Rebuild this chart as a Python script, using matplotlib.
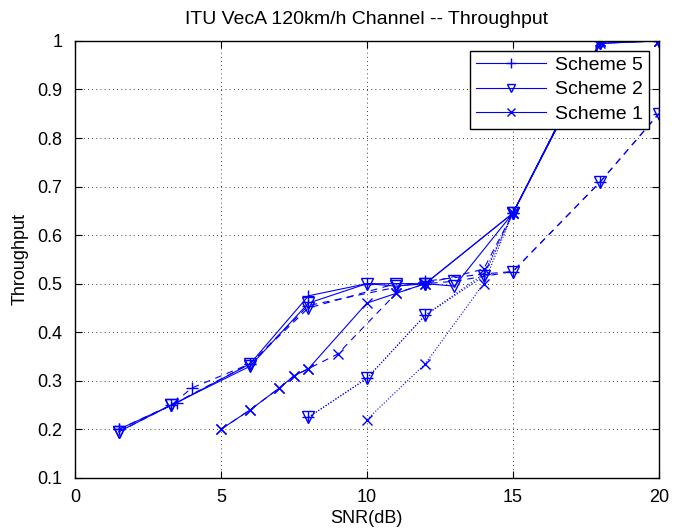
import matplotlib
matplotlib.use('Agg')
import matplotlib.pyplot as plt

plt.rcParams['font.family'] = ['Liberation Sans', 'DejaVu Sans']

# Scheme 5 (+)
x_s5_solid = [1.5, 3.5, 6, 8, 10, 12, 15, 18, 20]
y_s5_solid = [0.20, 0.255, 0.335, 0.475, 0.50, 0.50, 0.645, 1.0, 1.0]
x_s5_dash = [1.5, 3.3, 4, 6, 8, 12, 14, 15, 18, 20]
y_s5_dash = [0.20, 0.25, 0.285, 0.335, 0.455, 0.505, 0.52, 0.525, 0.71, 0.85]
x_s5_dot = [8, 10, 12, 14, 15, 18, 20]
y_s5_dot = [0.225, 0.305, 0.435, 0.52, 0.645, 1.0, 1.0]

# Scheme 2 (v)
x_s2_solid = [1.5, 3.3, 6, 8, 10, 11, 12, 13, 15, 18, 20]
y_s2_solid = [0.195, 0.25, 0.33, 0.46, 0.50, 0.495, 0.50, 0.495, 0.645, 0.995, 1.0]
x_s2_dash = [1.5, 3.3, 6, 8, 11, 12, 13, 15, 18, 20]
y_s2_dash = [0.195, 0.25, 0.335, 0.45, 0.50, 0.50, 0.505, 0.525, 0.71, 0.85]
x_s2_dot = [8, 10, 12, 14, 15, 18, 20]
y_s2_dot = [0.225, 0.305, 0.435, 0.515, 0.645, 0.995, 1.0]

# Scheme 1 (x)
x_s1_solid = [5, 6, 7, 7.5, 8, 10, 11, 12, 15, 18, 20]
y_s1_solid = [0.20, 0.24, 0.285, 0.31, 0.325, 0.46, 0.48, 0.50, 0.645, 0.995, 1.0]
x_s1_dash = [5, 6, 7, 7.5, 8, 9, 11, 12, 14, 15, 18, 20]
y_s1_dash = [0.20, 0.24, 0.285, 0.31, 0.325, 0.355, 0.48, 0.50, 0.53, 0.645, 1.0, 1.0]
x_s1_dot = [10, 12, 14, 15, 18, 20]
y_s1_dot = [0.22, 0.335, 0.50, 0.645, 1.0, 1.0]

fig = plt.figure(figsize=(6.75, 5.31), dpi=100)
ax = fig.add_axes([0.111, 0.1, 0.865, 0.823])

blue = '#0000ff'
kw_p = dict(color=blue, marker='+', markersize=9, markeredgewidth=1.0, linewidth=0.8)
kw_v = dict(color=blue, marker='v', markersize=8, markerfacecolor='none', markeredgewidth=1.0, linewidth=0.8)
kw_x = dict(color=blue, marker='x', markersize=7, markeredgewidth=1.0, linewidth=0.8)

l5, = ax.plot(x_s5_solid, y_s5_solid, '-', **kw_p)
l2, = ax.plot(x_s2_solid, y_s2_solid, '-', **kw_v)
l1, = ax.plot(x_s1_solid, y_s1_solid, '-', **kw_x)
ax.plot(x_s5_dash, y_s5_dash, '--', dashes=(6, 5), **kw_p)
ax.plot(x_s2_dash, y_s2_dash, '--', dashes=(6, 5), **kw_v)
ax.plot(x_s1_dash, y_s1_dash, '--', dashes=(6, 5), **kw_x)
ax.plot(x_s5_dot, y_s5_dot, ':', **kw_p)
ax.plot(x_s2_dot, y_s2_dot, ':', **kw_v)
ax.plot(x_s1_dot, y_s1_dot, ':', **kw_x)

ax.set_xlim(0, 20)
ax.set_ylim(0.1, 1)
ax.set_xticks([0, 5, 10, 15, 20])
ax.set_yticks([0.1, 0.2, 0.3, 0.4, 0.5, 0.6, 0.7, 0.8, 0.9, 1.0])
ax.set_yticklabels(['0.1', '0.2', '0.3', '0.4', '0.5', '0.6', '0.7', '0.8', '0.9', '1'])
ax.tick_params(direction='in', top=True, right=True, labelsize=13, length=5)
ax.tick_params(axis='x', pad=8)
ax.tick_params(axis='y', pad=9)
ax.grid(True, color='black', linestyle=(0, (1, 4)), linewidth=0.6)
for s in ax.spines.values():
    s.set_linewidth(1.0)

ax.set_xlabel('SNR(dB)', fontsize=13, labelpad=3)
ax.set_ylabel('Throughput', fontsize=13, labelpad=6)
ax.set_title('ITU VecA 120km/h Channel -- Throughput', fontsize=14, pad=12)

leg = ax.legend([l5, l2, l1], ['Scheme 5', 'Scheme 2', 'Scheme 1'], loc='upper right',
                fontsize=14, fancybox=False, edgecolor='black', framealpha=1,
                markerscale=0.8, numpoints=1, borderaxespad=0.5, handlelength=3.6,
                handletextpad=0.5, labelspacing=0.35, borderpad=0.3)
leg.get_frame().set_linewidth(1.0)

fig.savefig('out.png', dpi=100)
